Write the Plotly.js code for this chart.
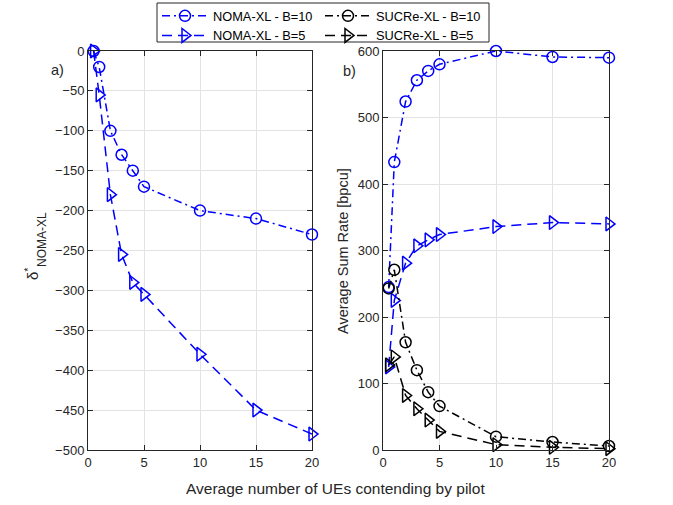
<!DOCTYPE html>
<html lang="en">
<head>
    <meta charset="UTF-8">
    <title>NOMA-XL vs SUCRe-XL</title>
    <script src="https://cdn.plot.ly/plotly-3.0.1.min.js"></script>
    <style>
        html, body { margin: 0; padding: 0; background: #fff; }
    </style>
</head>
<body>

<div id="chart" style="width: 673px; height: 505px;"></div>

<script>
    // average number of UEs contending by pilot
    let ues = [0.5, 1, 2, 3, 4, 5, 10, 15, 20];

    // a) optimal delta for NOMA-XL
    let deltaB10 = [0, -20, -100, -130, -150, -170, -200, -210, -230];
    let deltaB5 = [0, -55, -180, -255, -290, -305, -380, -450, -480];

    // b) average sum rate [bpcu]
    let nomaB10 = [245, 433, 524, 556, 570, 580, 600, 591, 590];
    let nomaB5 = [125, 225, 281, 307, 316, 324, 336, 342, 340];
    let sucreB10 = [243, 271, 162, 120, 87, 66, 20, 12, 6];
    let sucreB5 = [128, 140, 82, 62, 45, 28, 8, 4, 2];

    let leftTicks = [0, -50, -100, -150, -200, -250, -300, -350, -400, -450, -500];
    let rightTicks = [0, 100, 200, 300, 400, 500, 600];
    let xTicks = [0, 5, 10, 15, 20];

    let W = 673, H = 505;
    let px = function (v) { return v / W; };
    let py = function (v) { return 1 - v / H; };

    let blue = '#0000FF';
    let black = '#000000';
    let dashDot = '8px,4px,2px,4px';
    let dashed = '10px,6px';
    let font = 'Liberation Sans, Arial, Helvetica, sans-serif';

    function line(x, y, color, dash, symbol, name, xa, ya, legend, show) {
        return {
            x: x,
            y: y,
            xaxis: xa,
            yaxis: ya,
            type: 'scatter',
            mode: 'lines+markers',
            name: name,
            legend: legend,
            showlegend: show,
            cliponaxis: false,
            line: {color: color, width: 1.5, dash: dash},
            marker: {
                symbol: symbol,
                size: symbol === 'circle-open' ? 11 : 12,
                color: color,
                line: {color: color, width: 1.5}
            }
        };
    }

    let data = [
        line(ues, deltaB10, blue, dashDot, 'circle-open', 'NOMA-XL - B=10', 'x', 'y', 'legend', false),
        line(ues, deltaB5, blue, dashed, 'triangle-right-open', 'NOMA-XL - B=5', 'x', 'y', 'legend', false),
        line(ues, nomaB10, blue, dashDot, 'circle-open', 'NOMA-XL - B=10', 'x2', 'y2', 'legend', true),
        line(ues, nomaB5, blue, dashed, 'triangle-right-open', 'NOMA-XL - B=5', 'x2', 'y2', 'legend', true),
        line(ues, sucreB10, black, dashDot, 'circle-open', 'SUCRe-XL - B=10', 'x2', 'y2', 'legend2', true),
        line(ues, sucreB5, black, dashed, 'triangle-right-open', 'SUCRe-XL - B=5', 'x2', 'y2', 'legend2', true)
    ];

    function axis(domain, range, ticks, anchor) {
        return {
            domain: domain,
            range: range,
            anchor: anchor,
            tickvals: ticks,
            ticks: 'inside',
            ticklen: 5,
            tickcolor: '#262626',
            showline: true,
            linecolor: '#262626',
            linewidth: 1,
            mirror: 'ticks',
            showgrid: true,
            gridcolor: '#E3E3E3',
            zeroline: false,
            automargin: false,
            tickfont: {family: font, size: 13, color: '#262626'}
        };
    }

    let legendBase = {
        yanchor: 'top',
        xanchor: 'left',
        y: py(1),
        bgcolor: 'rgba(0,0,0,0)',
        borderwidth: 0,
        itemwidth: 46,
        tracegroupgap: 0,
        font: {family: font, size: 12.8, color: '#000'}
    };

    function label(text, x, y, size, angle) {
        return {
            text: text,
            x: px(x), y: py(y), xref: 'paper', yref: 'paper',
            showarrow: false, textangle: angle, xanchor: 'center', yanchor: 'middle',
            font: {family: font, size: size, color: '#262626'}
        };
    }

    let layout = {
        width: W,
        height: H,
        margin: {l: 0, r: 0, t: 0, b: 0},
        paper_bgcolor: '#fff',
        plot_bgcolor: '#fff',
        showlegend: true,
        xaxis: axis([px(88), px(312)], [0, 20], xTicks, 'y'),
        yaxis: axis([py(450), py(51)], [-500, 0], leftTicks, 'x'),
        xaxis2: axis([px(383), px(609)], [0, 20], xTicks, 'y2'),
        yaxis2: axis([py(450), py(51)], [0, 600], rightTicks, 'x2'),
        legend: Object.assign({}, legendBase, {x: px(157)}),
        legend2: Object.assign({}, legendBase, {x: px(320)}),
        shapes: [{
            type: 'rect', xref: 'paper', yref: 'paper', layer: 'below',
            x0: px(157), x1: px(489), y0: py(42), y1: py(3),
            line: {color: '#262626', width: 1},
            fillcolor: '#fff'
        }],
        annotations: [
            label('Average number of UEs contending by pilot', 335, 488, 15.5, 0),
            label('δ<sup>*</sup>', 31, 274, 15, -90),
            label('NOMA-XL', 42, 240, 12, -90),
            label('Average Sum Rate [bpcu]', 343, 251, 14.5, -90),
            label('a)', 57, 70, 14.5, 0),
            label('b)', 349, 71, 14.5, 0)
        ]
    };

    Plotly.newPlot('chart', data, layout, {staticPlot: true});
</script>

</body>
</html>
